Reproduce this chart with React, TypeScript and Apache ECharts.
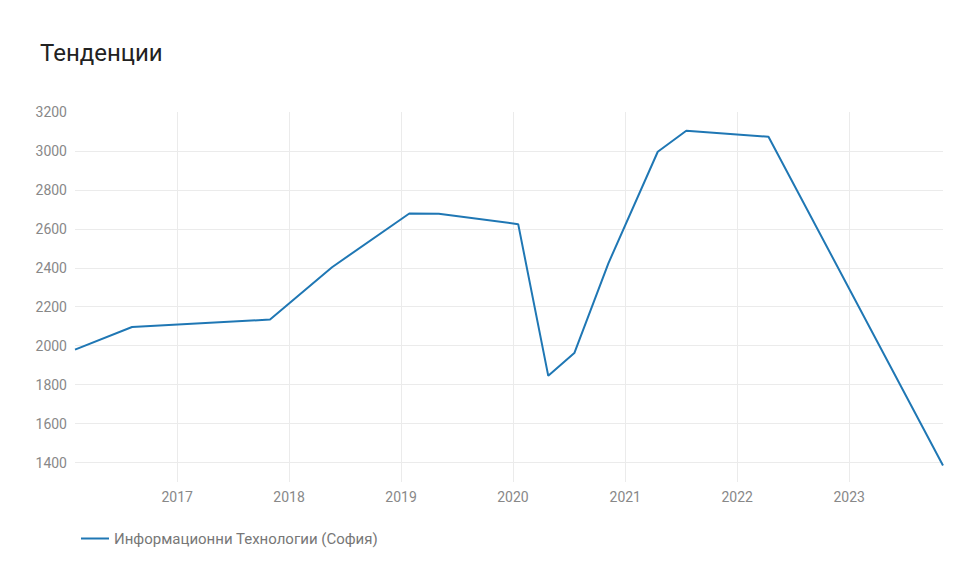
import React, { useEffect, useRef } from "react";
import * as echarts from "echarts";

const titleText = "Тенденции";
const seriesName = "Информационни Технологии (София)";
const dates = [
  "2016-02-03",
  "2016-08-07",
  "2017-10-31",
  "2018-05-21",
  "2019-01-28",
  "2019-05-04",
  "2020-01-18",
  "2020-04-25",
  "2020-07-19",
  "2020-11-07",
  "2021-04-17",
  "2021-07-19",
  "2022-04-13",
  "2023-11-03",
];
const values = [1980, 2096, 2134, 2403, 2679, 2678, 2624, 1845, 1962, 2423, 2996, 3104, 3073, 1385];
const yMin = 1300;
const yMax = 3200;

export default function App() {
  const ref = useRef<HTMLDivElement>(null);
  useEffect(() => {
    if (!ref.current) return;
    const chart = echarts.init(ref.current, undefined, { renderer: "svg" });
    const data = dates.map((d, i) => [d, values[i]]);
    chart.setOption({
      animation: false,
      textStyle: { fontFamily: "Roboto" },
      title: {
        text: titleText,
        left: 27,
        top: 28,
        textStyle: { fontFamily: "Roboto", fontSize: 24, fontWeight: "normal", color: "#222" },
      },
      grid: { left: 67, right: 15, top: 104, bottom: 86, containLabel: false },
      legend: {
        left: 68,
        top: 518,
        icon: "rect",
        itemWidth: 28,
        itemHeight: 2,
        itemGap: 10,
        textStyle: { color: "#777", fontSize: 15, fontFamily: "Roboto" },
        data: [seriesName],
      },
      xAxis: {
        type: "time",
        min: dates[0],
        max: dates[dates.length - 1],
        minInterval: 365 * 86400000,
        axisLine: { show: false },
        axisTick: { show: false },
        axisLabel: {
          formatter: "{yyyy}",
          color: "#888",
          fontSize: 14,
          margin: 8,
          showMinLabel: false,
          showMaxLabel: false,
        },
        splitLine: {
          show: true,
          showMinLine: false,
          showMaxLine: false,
          lineStyle: { color: "#ebebeb", width: 1 },
        },
      },
      yAxis: {
        type: "value",
        min: yMin,
        max: yMax,
        interval: 100,
        axisLine: { show: false },
        axisTick: { show: false },
        axisLabel: {
          color: "#888",
          fontSize: 14,
          margin: 8,
          formatter: (v: number) => (v % 200 === 0 ? String(v) : ""),
        },
        splitLine: {
          show: true,
          showMaxLine: false,
          lineStyle: { color: ["rgba(0,0,0,0)", "#ebebeb"], width: 1 },
        },
      },
      series: [
        {
          name: seriesName,
          type: "line",
          data,
          symbol: "none",
          lineStyle: { color: "#1f77b4", width: 2 },
          itemStyle: { color: "#1f77b4" },
        },
      ],
    });
    return () => chart.dispose();
  }, []);
  return <div ref={ref} style={{ width: 950, height: 560 }} />;
}
